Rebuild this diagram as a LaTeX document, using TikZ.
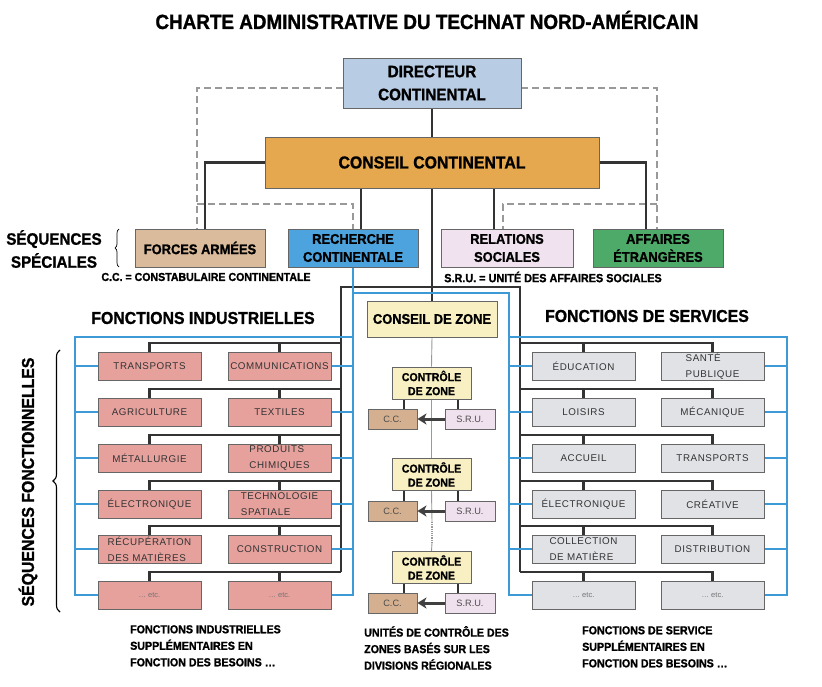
\documentclass[tikz,border=0pt]{standalone}
\usepackage{fontspec}
\setmainfont{Liberation Sans}
\newfontfamily\hd[FakeStretch=0.92, BoldFeatures={FakeBold=1.2}]{Liberation Sans}
\newfontfamily\lbl[LetterSpace=6]{Liberation Sans}
\usetikzlibrary{arrows.meta,decorations.pathreplacing}
\pgfdeclarelayer{background}
\pgfdeclarelayer{paper}
\pgfsetlayers{paper,background,main}
\definecolor{cdir}{HTML}{B8CCE4}
\definecolor{ccons}{HTML}{E6A84E}
\definecolor{cforce}{HTML}{DABB9C}
\definecolor{crech}{HTML}{4CA3DD}
\definecolor{crel}{HTML}{F1E2EF}
\definecolor{caff}{HTML}{4EAA69}
\definecolor{cind}{HTML}{E6A19D}
\definecolor{cserv}{HTML}{E1E2E6}
\definecolor{czone}{HTML}{F8F0C2}
\definecolor{ccc}{HTML}{D4B090}
\definecolor{csru}{HTML}{F0E1EF}
\definecolor{cdark}{HTML}{333333}
\definecolor{cblue}{HTML}{3D9AD6}
\definecolor{cdash}{HTML}{999999}
\definecolor{cedge}{HTML}{666666}
\begin{document}
\begin{tikzpicture}[x=1pt,y=-1pt,
  box/.style={draw=cedge, line width=0.9pt, inner sep=0pt, align=center, text=black},
  bighd/.style={font=\hd\bfseries\fontsize{16.5}{23}\selectfont},
  midhd/.style={font=\hd\bfseries\fontsize{14}{18}\selectfont},
  spbox/.style={box, minimum width=130pt, minimum height=38pt, midhd},
  fbox/.style={box, minimum width=103pt, minimum height=28pt, font=\lbl\fontsize{9.8}{16}\selectfont, text=black!80},
  ind/.style={fbox, fill=cind},
  serv/.style={fbox, fill=cserv},
  etcf/.style={font=\fontsize{7.5}{9}\selectfont, text=black!55},
  ctrl/.style={box, fill=czone, minimum width=79pt, minimum height=32pt, font=\hd\bfseries\fontsize{11.5}{14}\selectfont},
  small/.style={box, minimum width=49pt, minimum height=20pt, font=\fontsize{9.2}{10}\selectfont, text=black!70},
  darkln/.style={draw=cdark, line width=2.6pt},
  blueln/.style={draw=cblue, line width=1.8pt},
  dashln/.style={draw=cdash, line width=1.3pt, dash pattern=on 7pt off 4pt},
  greyln/.style={draw=black!40, line width=0.9pt},
  note/.style={font=\hd\bfseries\fontsize{11.6}{16.5}\selectfont, align=left, anchor=north west, inner sep=0pt},
  lab/.style={inner sep=0pt},
]
\useasboundingbox (0,0) rectangle (822,687);
\begin{pgfonlayer}{paper}
\fill[white] (0,0) rectangle (822,687);
\end{pgfonlayer}

% title
\node[lab, font=\hd\bfseries\fontsize{20.5}{22}\selectfont] (title) at (427,20) {CHARTE ADMINISTRATIVE DU TECHNAT NORD-AMÉRICAIN};

% top boxes
\node[box, fill=cdir, minimum width=178pt, minimum height=50pt, bighd] (dir) at (432,83) {DIRECTEUR\\CONTINENTAL};
\node[box, fill=ccons, minimum width=334pt, minimum height=51pt, font=\hd\bfseries\fontsize{17.2}{20}\selectfont] (cons) at (432,162.5) {CONSEIL CONTINENTAL};
\node[spbox, fill=cforce] (force) at (200,248) {FORCES ARMÉES};
\node[spbox, fill=crech] (rech) at (353,248) {RECHERCHE\\CONTINENTALE};
\node[spbox, fill=crel, minimum width=132pt] (rel) at (507,248) {RELATIONS\\SOCIALES};
\node[spbox, fill=caff] (aff) at (658,248) {AFFAIRES\\ÉTRANGÈRES};

% legends
\node[lab, font=\hd\bfseries\fontsize{16.5}{23}\selectfont, align=center] (seqsp) at (54,249) {SÉQUENCES\\SPÉCIALES};
\draw[decorate, decoration={brace, amplitude=4pt}, line width=0.7pt] (119,267) -- (119,229);
\node[lab, font=\hd\bfseries\fontsize{11.5}{12}\selectfont] (ccleg) at (206,277) {C.C. = CONSTABULAIRE CONTINENTALE};
\node[lab, font=\hd\bfseries\fontsize{11.8}{12}\selectfont] (sruleg) at (553,277) {S.R.U. = UNITÉ DES AFFAIRES SOCIALES};

\node[lab, font=\hd\bfseries\fontsize{17.2}{18}\selectfont] (hind) at (203,318) {FONCTIONS INDUSTRIELLES};
\node[lab, font=\hd\bfseries\fontsize{17.2}{18}\selectfont] (hserv) at (647,316) {FONCTIONS DE SERVICES};

\node[lab, rotate=90, font=\hd\bfseries\fontsize{17.2}{18}\selectfont] (seqf) at (28,482) {SÉQUENCES FONCTIONNELLES};
\draw[decorate, decoration={brace, amplitude=7pt}, line width=1.1pt] (60,612) -- (60,350);

% function boxes
\foreach \i/\y/\a/\b in {1/366/{TRANSPORTS}/{COMMUNICATIONS},
                          2/412/{AGRICULTURE}/{TEXTILES},
                          3/458/{MÉTALLURGIE}/{PRODUITS\\CHIMIQUES},
                          4/504/{ÉLECTRONIQUE}/{TECHNOLOGIE\\SPATIALE},
                          5/549/{RÉCUPÉRATION\\DES MATIÈRES}/{CONSTRUCTION}}{
  \node[ind, align=left] (iL\i) at (149.5,\y) {\a};
  \node[ind, align=left] (iR\i) at (279.5,\y) {\b};
}
\node[ind, etcf] (iL6) at (149.5,595) {… etc.};
\node[ind, etcf] (iR6) at (279.5,595) {… etc.};

\foreach \i/\y/\a/\b in {1/366/{ÉDUCATION}/{SANTÉ\\PUBLIQUE},
                          2/412/{LOISIRS}/{MÉCANIQUE},
                          3/458/{ACCUEIL}/{TRANSPORTS},
                          4/504/{ÉLECTRONIQUE}/{CRÉATIVE},
                          5/549/{COLLECTION\\DE MATIÈRE}/{DISTRIBUTION}}{
  \node[serv, align=left] (sL\i) at (583.5,\y) {\a};
  \node[serv, align=left] (sR\i) at (712.5,\y) {\b};
}
\node[serv, etcf] (sL6) at (583.5,595) {… etc.};
\node[serv, etcf] (sR6) at (712.5,595) {… etc.};

% zone column
\node[box, fill=czone, minimum width=130pt, minimum height=36pt, font=\hd\bfseries\fontsize{14}{15}\selectfont] (cz) at (432,319) {CONSEIL DE ZONE};
\foreach \i/\y/\s in {1/383/419, 2/474.5/511, 3/567.5/603}{
  \node[ctrl] (z\i) at (431.5,\y) {CONTRÔLE\\DE ZONE};
  \node[small, fill=ccc] (cc\i) at (392.5,\s) {C.C.};
  \node[small, fill=csru, minimum width=50pt] (sru\i) at (470,\s) {S.R.U.};
}

% bottom notes
\node[note] (n1) at (130,625) {FONCTIONS INDUSTRIELLES\\SUPPLÉMENTAIRES EN\\FONCTION DES BESOINS …};
\node[note] (n2) at (364,626) {UNITÉS DE CONTRÔLE DES\\ZONES BASÉS SUR LES\\DIVISIONS RÉGIONALES};
\node[note] (n3) at (582,626) {FONCTIONS DE SERVICE\\SUPPLÉMENTAIRES EN\\FONCTION DES BESOINS …};

% ---------- connectors ----------
\coordinate (dL) at (197,88);
\coordinate (dR) at (657,88);
\coordinate (iLd) at (197,204);
\coordinate (iRd) at (657,204);
\coordinate (relD) at (503,0);
\coordinate (cl) at (205,0);
\coordinate (cr) at (646,0);
\coordinate (xr) at (361,0);
\coordinate (xs) at (494,0);
\coordinate (tl) at (341,287);
\coordinate (tr) at (520,287);
\coordinate (BL) at (75,337);
\coordinate (BM) at (509,293);
\coordinate (BR) at (787,337);
\coordinate (tx1) at (404,0);
\coordinate (tx2) at (458,0);
\coordinate (gd1) at (432,522);
\coordinate (gd2) at (432,543);
\foreach \i/\y in {1/343,2/389,3/435,4/481,5/526,6/572}{
  \coordinate (b\i) at (341,\y);
  \coordinate (s\i) at (520,\y);
}

\begin{pgfonlayer}{background}
  % dashed
  \draw[dashln] (dir.west |- dL) -| (force.north -| dL);
  \draw[dashln] (dir.east |- dR) -| (aff.north -| dR);
  \draw[dashln] (iLd) -| (rech.north);
  \draw[dashln] (iRd) -| (rel.north -| relD);
  % dark
  \draw[darkln] (dir) -- (cons);
  \draw[darkln] (cons.west) -| (force.north -| cl);
  \draw[darkln] (cons.east) -| (aff.north -| cr);
  \draw[darkln] (cons.south -| xr) -- (rech.north -| xr);
  \draw[darkln] (cons.south -| xs) -- (rel.north -| xs);
  \draw[darkln] (cons.south) -- (cz.north);
  \draw[darkln] (b6) -- (tl) -- (tr) -- (s6);
  \foreach \i in {1,...,6}{
    \draw[darkln] (iL\i.north) |- (b\i);
    \draw[darkln] (iR\i.north) -- (iR\i.north |- b\i);
    \draw[darkln] (sR\i.north) |- (s\i);
    \draw[darkln] (sL\i.north) -- (sL\i.north |- s\i);
  }
  % blue
  \draw[blueln] (rech.south) |- (iR6.east);
  \draw[blueln] (rech.south |- BL) -- (BL) |- (iL6.west);
  \draw[blueln] (rech.south |- BM) -- (BM) |- (sL6.west);
  \draw[blueln] (BM |- BR) -- (BR) |- (sR6.east);
  \foreach \i in {1,...,5}{
    \draw[blueln] (iL\i.west) -- (iL\i.west -| BL);
    \draw[blueln] (iR\i.east) -- (iR\i.east -| rech.south);
    \draw[blueln] (sL\i.west) -- (sL\i.west -| BM);
    \draw[blueln] (sR\i.east) -- (sR\i.east -| BR);
  }
  % zone column
  \draw[greyln] (cz.south) -- (z1.north);
  \draw[greyln] (z1.south) -- (z2.north);
  \draw[greyln] (z2.south) -- (gd1);
  \draw[greyln, line width=1.8pt, dash pattern=on 1.2pt off 1pt] (gd1) -- (gd2);
  \draw[greyln] (gd2) -- (z3.north);
  \foreach \i in {1,2,3}{
    \draw[darkln, line width=2pt] (z\i.south -| tx1) -- (cc\i.north -| tx1);
    \draw[darkln, line width=2pt] (z\i.south -| tx2) -- (sru\i.north -| tx2);
  }
\end{pgfonlayer}
\foreach \i in {1,2,3}{
  \draw[draw=black!75, line width=3pt, -{Stealth[length=9pt,width=11pt,inset=2.5pt]}] (sru\i.west) -- (cc\i.east);
}
\end{tikzpicture}
\end{document}
